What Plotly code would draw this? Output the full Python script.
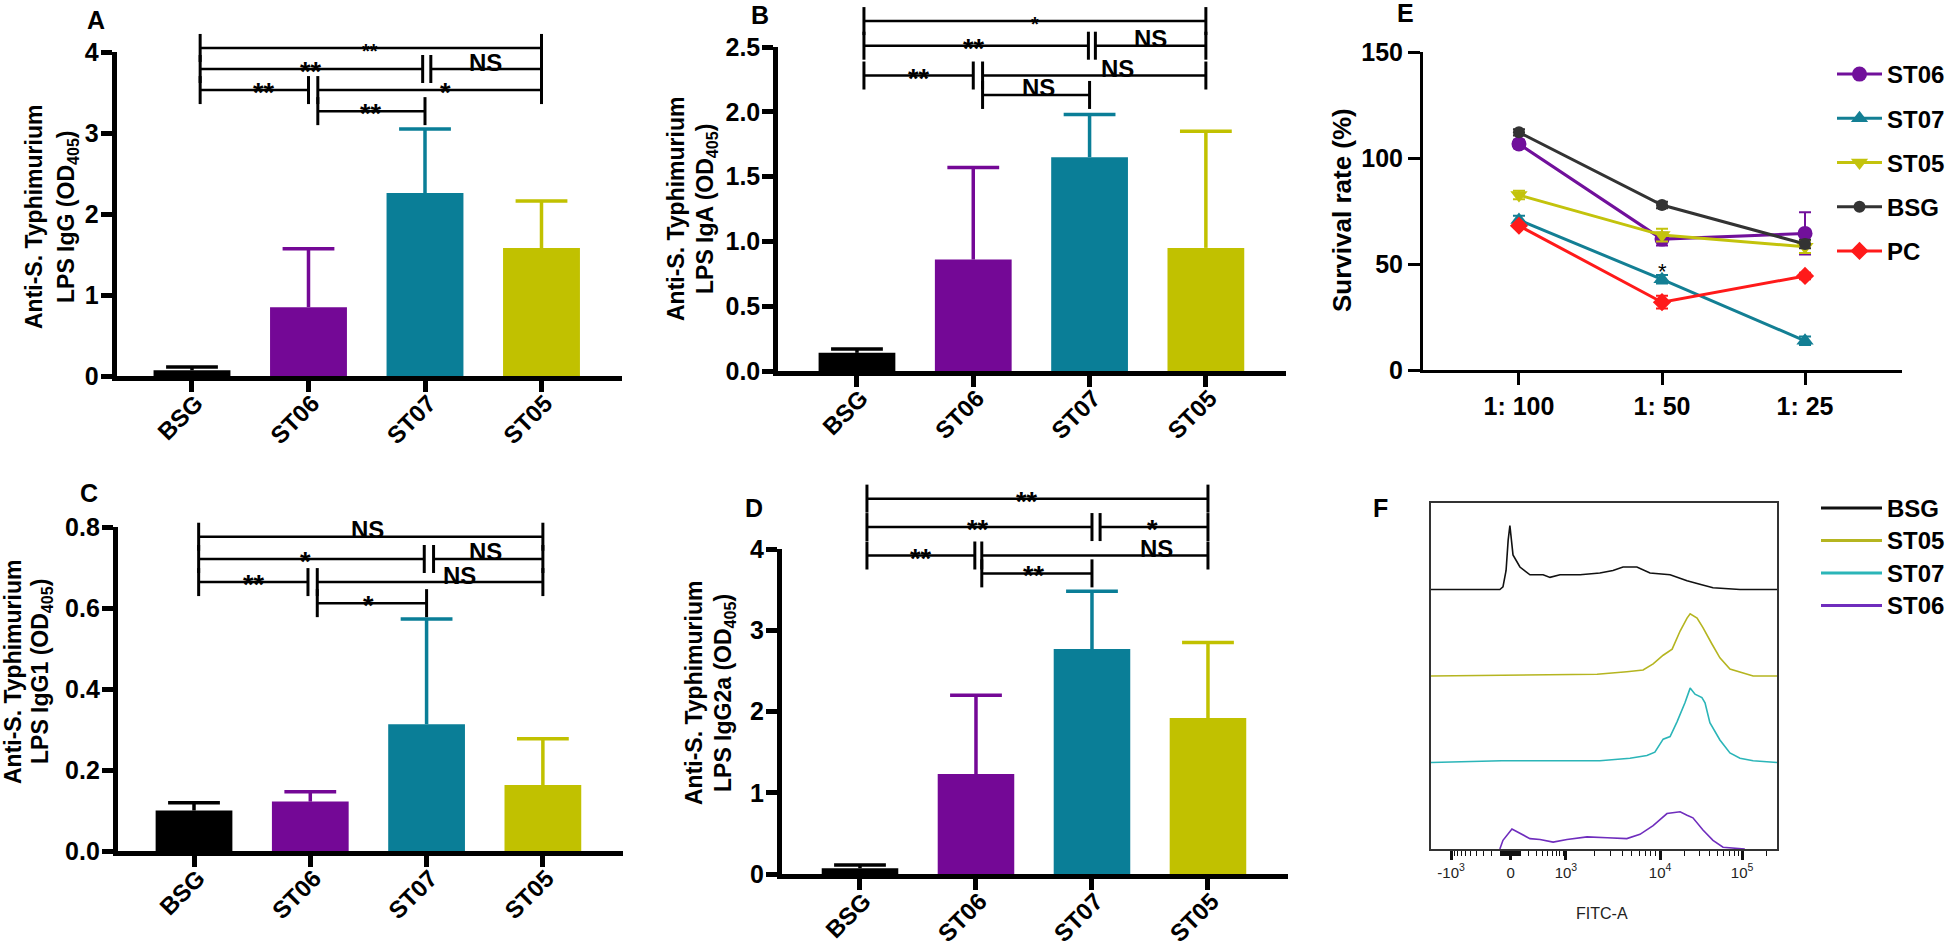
import plotly.graph_objects as go
import numpy as np

W, H = 1958, 948
FONT = "Liberation Sans, Arial, Helvetica, sans-serif"
NARROW = "Liberation Sans Narrow, Arial Narrow, Liberation Sans, sans-serif"

# ---------------- ELISA bar data (mean, SD) ----------------
groups = ["BSG", "ST06", "ST07", "ST05"]
group_colors = ["#000000", "#740896", "#0a7e97", "#c1c100"]

igg_mean = [0.07, 0.85, 2.26, 1.58]
igg_sd = [0.04, 0.72, 0.79, 0.58]
iga_mean = [0.14, 0.86, 1.65, 0.95]
iga_sd = [0.03, 0.71, 0.33, 0.90]
igg1_mean = [0.100, 0.122, 0.313, 0.163]
igg1_sd = [0.019, 0.024, 0.260, 0.114]
igg2a_mean = [0.07, 1.23, 2.77, 1.92]
igg2a_sd = [0.04, 0.97, 0.71, 0.93]

# significance brackets: (from, to, level, label, label position, font size)
igg_sig = [
    (0.07, 3.00, 4.05, "**", 1.53, 20),
    (0.07, 1.98, 3.79, "**", 1.02, 27),
    (2.05, 3.00, 3.79, "NS", 2.52, 24),
    (0.07, 1.00, 3.53, "**", 0.62, 27),
    (1.08, 3.00, 3.53, "*", 2.18, 27),
    (1.08, 2.00, 3.27, "**", 1.54, 27),
]
iga_sig = [
    (0.06, 3.00, 2.70, "*", 1.53, 20),
    (0.06, 1.99, 2.51, "**", 1.01, 27),
    (2.05, 3.00, 2.51, "NS", 2.52, 24),
    (0.06, 1.00, 2.28, "**", 0.53, 27),
    (1.08, 3.00, 2.28, "NS", 2.24, 24),
    (1.08, 2.00, 2.13, "NS", 1.565, 24),
]
igg1_sig = [
    (0.04, 3.00, 0.776, "NS", 1.49, 24),
    (0.04, 1.98, 0.721, "*", 0.96, 27),
    (2.06, 3.00, 0.721, "NS", 2.51, 24),
    (0.04, 0.98, 0.664, "**", 0.52, 27),
    (1.06, 3.00, 0.664, "NS", 2.28, 24),
    (1.06, 2.00, 0.612, "*", 1.50, 27),
]
igg2a_sig = [
    (0.06, 3.00, 4.62, "**", 1.44, 27),
    (0.06, 2.00, 4.27, "**", 1.02, 27),
    (2.07, 3.00, 4.27, "*", 2.52, 27),
    (0.06, 0.99, 3.92, "**", 0.53, 27),
    (1.05, 3.00, 3.92, "NS", 2.56, 24),
    (1.05, 2.00, 3.70, "**", 1.50, 27),
]

# ---------------- survival data (E) ----------------
dilutions = ["1: 100", "1: 50", "1: 25"]
st06_surv = [106.7, 61.8, 64.5]
st06_sd = [2.0, 3.0, 10.0]
st07_surv = [70.8, 42.8, 13.8]
st07_sd = [2.0, 2.0, 2.0]
st05_surv = [82.6, 63.7, 58.2]
st05_sd = [2.0, 3.0, 3.0]
bsg_surv = [112.2, 77.9, 59.5]
bsg_sd = [1.5, 1.5, 2.0]
pc_surv = [68.1, 32.0, 44.4]
pc_sd = [1.0, 3.0, 1.5]

# ---------------- flow histograms (F), display channel vs % of max ----------------
bsg_fitc = [0, 199, 208, 217, 223, 228, 237, 257, 286, 324, 344, 373, 431, 488, 526, 555, 595, 633, 691, 740, 777, 815, 893, 1000]
bsg_count = [0, 0, 3, 22, 57, 74, 40, 26, 17, 17, 14, 17, 17, 19, 22, 26, 26, 19, 17, 10, 6, 2, 0, 0]
st05_fitc = [0, 191, 382, 480, 566, 613, 642, 671, 697, 720, 740, 749, 769, 786, 812, 835, 864, 902, 931, 1000]
st05_count = [0, 1, 2, 2, 5, 7, 14, 24, 31, 52, 67, 72, 67, 56, 37, 21, 8, 3, 0, 0]
st07_fitc = [0, 205, 488, 575, 624, 647, 671, 691, 711, 734, 749, 763, 783, 792, 806, 835, 864, 893, 931, 971, 1000]
st07_count = [0, 2, 2, 5, 8, 12, 27, 30, 47, 69, 86, 79, 75, 69, 46, 26, 11, 5, 2, 1, 0]
st06_fitc = [199, 208, 234, 257, 286, 315, 353, 393, 451, 509, 566, 604, 642, 682, 720, 740, 757, 786, 815, 844, 893, 907]
st06_count = [0, 10, 23, 18, 12, 11, 8, 11, 14, 13, 12, 17, 27, 41, 43, 39, 36, 22, 10, 2, 1, 0]
fitc_major = [58, 230, 390, 662, 899]
fitc_labels = ["-10<sup>3</sup>", "0", "10<sup>3</sup>", "10<sup>4</sup>", "10<sup>5</sup>"]

# ---------------- panel geometry (pixel boxes: left, right, top, bottom) ----------------
panels = {
    "A": dict(box=(116.5, 622, 52, 376), xr=(-0.648, 3.691), yr=(0, 4)),
    "B": dict(box=(778, 1286, 47, 371), xr=(-0.679, 3.689), yr=(0, 2.5)),
    "C": dict(box=(117.6, 623, 527, 851), xr=(-0.657, 3.689), yr=(0, 0.8)),
    "D": dict(box=(781.7, 1288, 549, 874), xr=(-0.675, 3.69), yr=(0, 4)),
    "E": dict(box=(1423, 1902, 52.3, 370), xr=(-0.671, 2.678), yr=(0, 150)),
    "F": dict(box=(1431, 1777, 503, 849), xr=(0, 1000), yr=(0, 400)),
}


def dom(p):
    l, r, t, b = p["box"]
    return [l / W, r / W], [1 - b / H, 1 - t / H]


def to_px(p, xv, yv):
    l, r, t, b = p["box"]
    x0, x1 = p["xr"]
    y0, y1 = p["yr"]
    return (l + (xv - x0) / (x1 - x0) * (r - l),
            b - (yv - y0) / (y1 - y0) * (b - t))


def seg(x0, y0, x1, y1, color="black", width=2.5):
    return dict(type="line", xref="paper", yref="paper",
                x0=x0 / W, y0=1 - y0 / H, x1=x1 / W, y1=1 - y1 / H,
                line=dict(color=color, width=width))


def text(x, y, s, size=24, bold=True, angle=0, xanchor="center", color="black", family=FONT):
    return dict(x=x / W, y=1 - y / H, xref="paper", yref="paper", text=s, showarrow=False,
                textangle=angle, xanchor=xanchor, yanchor="middle",
                font=dict(family=family, size=size, color=color, weight="bold" if bold else "normal"))


fig = go.Figure()
shapes, annotations = [], []
layout = {}

bar_panels = [
    ("A", igg_mean, igg_sd, igg_sig, [0, 1, 2, 3, 4], "d", "LPS IgG (OD<sub>405</sub>)", (34, 67, 217)),
    ("B", iga_mean, iga_sd, iga_sig, [0, 0.5, 1.0, 1.5, 2.0, 2.5], ".1f", "LPS IgA (OD<sub>405</sub>)", (676, 706, 209)),
    ("C", igg1_mean, igg1_sd, igg1_sig, [0, 0.2, 0.4, 0.6, 0.8], ".1f", "LPS IgG1 (OD<sub>405</sub>)", (13, 41, 672)),
    ("D", igg2a_mean, igg2a_sd, igg2a_sig, [0, 1, 2, 3, 4], "d", "LPS IgG2a (OD<sub>405</sub>)", (694, 724, 693)),
]

for k, (name, mean, sd, sig, yticks, yfmt, title2, tpos) in enumerate(bar_panels):
    p = panels[name]
    ax = "" if k == 0 else str(k + 1)
    for g, m, s, c in zip(groups, mean, sd, group_colors):
        fig.add_trace(go.Bar(
            x=[g], y=[m], width=0.66, marker=dict(color=c, line=dict(width=0)),
            xaxis="x" + ax, yaxis="y" + ax, showlegend=False, hoverinfo="skip"))
        # upper SD only: stem from the bar top, cap drawn as a horizontal marker
        fig.add_trace(go.Scatter(
            x=[g], y=[m + s], mode="markers",
            marker=dict(symbol="line-ew", size=37, color=c, line=dict(color=c, width=3.5)),
            error_y=dict(type="data", symmetric=False, array=[0], arrayminus=[s],
                         color=c, thickness=3.5, width=0),
            xaxis="x" + ax, yaxis="y" + ax, showlegend=False, hoverinfo="skip"))
    xd, yd = dom(p)
    layout["xaxis" + ax] = dict(
        domain=xd, range=list(p["xr"]), anchor="y" + ax, type="category",
        categoryorder="array", categoryarray=groups, automargin=False,
        showline=True, linecolor="black", linewidth=4.5,
        ticks="outside", ticklen=11, tickwidth=4.5, tickcolor="black", tickangle=-45,
        ticklabelstandoff=-12, ticklabelshift=4,
        tickfont=dict(family=FONT, size=24, color="black", weight="bold"),
        showgrid=False, zeroline=False, fixedrange=True)
    layout["yaxis" + ax] = dict(
        domain=yd, range=list(p["yr"]), anchor="x" + ax, automargin=False,
        showline=True, linecolor="black", linewidth=4.5,
        ticks="outside", ticklen=11, tickwidth=4.5, tickcolor="black",
        tickvals=yticks, tickformat=yfmt, ticklabelstandoff=-3,
        tickfont=dict(family=FONT, size=25, color="black", weight="bold"),
        showgrid=False, zeroline=False, fixedrange=True)

    # significance brackets
    for x0, x1, lev, lab, lx, fs in sig:
        ax0, ly = to_px(p, x0, lev)
        ax1, _ = to_px(p, x1, lev)
        shapes.append(seg(ax0, ly, ax1, ly, width=2.5))
        shapes.append(seg(ax0, ly - 14, ax0, ly + 14, width=3))
        shapes.append(seg(ax1, ly - 14, ax1, ly + 14, width=3))
        tx, _ = to_px(p, lx, lev)
        dy = -7 if lab == "NS" else 3
        annotations.append(text(tx, ly + dy, lab, size=fs))

    # axis title (two lines)
    annotations.append(text(tpos[0], tpos[2], "Anti-S. Typhimurium", size=23, angle=-90))
    annotations.append(text(tpos[1], tpos[2], title2, size=23, angle=-90))

# ---------------- panel E ----------------
pE = panels["E"]
surv_series = [
    ("ST06", st06_surv, st06_sd, "#71109b", "circle", 15),
    ("ST07", st07_surv, st07_sd, "#137f94", "triangle-up", 15),
    ("ST05", st05_surv, st05_sd, "#c3c30c", "triangle-down", 15),
    ("BSG", bsg_surv, bsg_sd, "#333333", "circle", 12),
    ("PC", pc_surv, pc_sd, "#ff1a1a", "diamond", 14),
]
for nm, vals, sds, col, sym, ms in surv_series:
    fig.add_trace(go.Scatter(
        x=dilutions, y=vals, name=nm, mode="lines+markers", legendgroup=nm,
        line=dict(color=col, width=3), marker=dict(symbol=sym, size=ms, color=col),
        error_y=dict(type="data", array=sds, color=col, thickness=2, width=6),
        xaxis="x5", yaxis="y5", hoverinfo="skip"))
xd, yd = dom(pE)
layout["xaxis5"] = dict(
    domain=xd, range=list(pE["xr"]), anchor="y5", type="category",
    categoryorder="array", categoryarray=dilutions, automargin=False,
    showline=True, linecolor="black", linewidth=3,
    ticks="outside", ticklen=12, tickwidth=3, tickcolor="black",
    tickfont=dict(family=FONT, size=25, color="black", weight="bold"),
    showgrid=False, zeroline=False, fixedrange=True)
layout["yaxis5"] = dict(
    domain=yd, range=list(pE["yr"]), anchor="x5", automargin=False,
    showline=True, linecolor="black", linewidth=3,
    ticks="outside", ticklen=12, tickwidth=3, tickcolor="black",
    tickvals=[0, 50, 100, 150],
    tickfont=dict(family=FONT, size=25, color="black", weight="bold"),
    showgrid=False, zeroline=False, fixedrange=True)
annotations.append(text(1342, 210, "Survival rate (%)", size=26, angle=-90))
annotations.append(dict(x=dilutions[1], y=st07_surv[1], xref="x5", yref="y5", text="*",
                        showarrow=False, yanchor="middle", yshift=8,
                        font=dict(family=FONT, size=22, color="black")))

# ---------------- panel F ----------------
pF = panels["F"]
flow_series = [
    ("BSG", bsg_fitc, bsg_count, "#111111", 300),
    ("ST05", st05_fitc, st05_count, "#b5b520", 200),
    ("ST07", st07_fitc, st07_count, "#2bb5b8", 100),
    ("ST06", st06_fitc, st06_count, "#6f2dbd", 0),
]
for nm, xs, ys, col, off in flow_series:
    fig.add_trace(go.Scatter(
        x=xs, y=[v + off for v in ys], mode="lines", name=nm, showlegend=False,
        line=dict(color=col, width=1.6), xaxis="x6", yaxis="y6", hoverinfo="skip"))

# logicle-style minor ticks
minor_vals = []
for a, b in [(390, 662), (662, 899)]:
    for m in range(2, 10):
        minor_vals.append(a + (b - a) * np.log10(m))
minor_vals.append(899 + 237 * np.log10(2))
for v in list(range(10, 100, 10)) + list(range(100, 1000, 100)):
    f = np.arcsinh(v / 300) / np.arcsinh(1000 / 300)
    minor_vals += [230 + 160 * f, 230 - 172 * f]

xd, yd = dom(pF)
layout["xaxis6"] = dict(
    domain=xd, range=list(pF["xr"]), anchor="y6", automargin=False,
    showline=True, mirror=True, linecolor="#333333", linewidth=1.5,
    ticks="outside", ticklen=9, tickwidth=2.5, tickcolor="#111111",
    tickvals=fitc_major, ticktext=fitc_labels,
    minor=dict(tickmode="array", tickvals=minor_vals, ticks="outside", ticklen=5,
               tickwidth=1.2, tickcolor="#111111"),
    tickfont=dict(family=NARROW, size=15, color="#222222"),
    showgrid=False, zeroline=False, fixedrange=True)
layout["yaxis6"] = dict(
    domain=yd, range=list(pF["yr"]), anchor="x6", automargin=False,
    showline=True, mirror=True, linecolor="#333333", linewidth=1.5,
    ticks="", showticklabels=False, showgrid=False, zeroline=False, fixedrange=True)
annotations.append(text(1602, 913, "FITC-A", size=16, bold=False, family=NARROW, color="#222222"))

# manual legend for F
for i, (nm, _, _, col, _) in enumerate(flow_series):
    yy = 508 + 32.5 * i
    shapes.append(seg(1821, yy, 1882, yy, color=col, width=3))
    annotations.append(text(1885, yy, nm, size=24, xanchor="left"))

# panel letters
for lab, (lx, ly) in zip("ABCDEF", [(96, 20), (760, 15), (89, 493), (754, 508), (1405, 13), (1380, 508)]):
    annotations.append(text(lx, ly, lab, size=25))

fig.update_layout(
    **layout,
    width=W, height=H, autosize=False,
    margin=dict(l=0, r=0, t=0, b=0, autoexpand=False),
    paper_bgcolor="white", plot_bgcolor="white",
    barmode="overlay",
    shapes=shapes, annotations=annotations,
    legend=dict(x=1832 / W, y=1 - 52 / H, xanchor="left", yanchor="top",
                font=dict(family=FONT, size=24, color="black", weight="bold"),
                itemwidth=45, tracegroupgap=10, bgcolor="rgba(0,0,0,0)"),
    font=dict(family=FONT, color="black"),
)

fig.write_html("out.html", config={"displayModeBar": False},
               post_script="document.body.style.margin='0';")
